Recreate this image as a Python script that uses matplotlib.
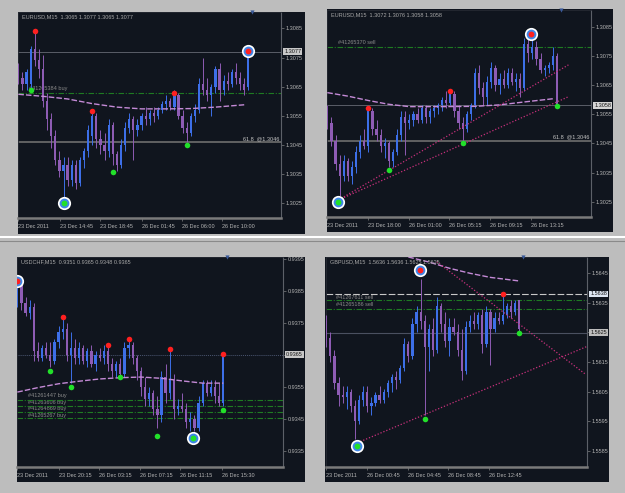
import matplotlib
matplotlib.use('Agg')
import matplotlib.pyplot as plt
import matplotlib.transforms as mtrans

W, H = 625, 493
BG = '#10151e'
BULL = '#3d6fe8'
BEAR = '#8e5cb4'
TXT = '#b4b4b4'
RED = '#ff2020'
GREEN = '#22e02a'
plt.rcParams['font.family'] = ['Liberation Sans', 'DejaVu Sans']

# ---- EURUSD (top left) ----
p1_open = [1.3071, 1.3068, 1.3066, 1.3066, 1.3078, 1.3074, 1.3071, 1.3060, 1.3054, 1.3048,
           1.3040, 1.3036, 1.3038, 1.3033, 1.3038, 1.3032, 1.3040, 1.3043, 1.3048, 1.3055,
           1.3047, 1.3045, 1.3043, 1.3052, 1.3042, 1.3038, 1.3045, 1.3051, 1.3054, 1.3050,
           1.3052, 1.3055, 1.3054, 1.3056, 1.3055, 1.3057, 1.3059, 1.3060, 1.3058, 1.3062,
           1.3055, 1.3051, 1.3049, 1.3055, 1.3057, 1.3066, 1.3064, 1.3062, 1.3065, 1.3071,
           1.3064, 1.3067, 1.3066, 1.3070, 1.3068, 1.3066, 1.3065]
p1_high = [1.3073, 1.3070, 1.3071, 1.3079, 1.3084, 1.3078, 1.3076, 1.3063, 1.3056, 1.3050,
           1.3043, 1.3041, 1.3041, 1.3040, 1.3040, 1.3041, 1.3044, 1.3052, 1.3057, 1.3056,
           1.3050, 1.3049, 1.3054, 1.3053, 1.3043, 1.3047, 1.3053, 1.3056, 1.3055, 1.3054,
           1.3056, 1.3058, 1.3057, 1.3058, 1.3058, 1.3060, 1.3062, 1.3061, 1.3064, 1.3063,
           1.3057, 1.3053, 1.3056, 1.3059, 1.3068, 1.3075, 1.3068, 1.3066, 1.3072, 1.3073,
           1.3069, 1.3070, 1.3071, 1.3073, 1.3070, 1.3068, 1.3077]
p1_low = [1.3066, 1.3064, 1.3064, 1.3064, 1.3072, 1.3068, 1.3058, 1.3050, 1.3044, 1.3038,
          1.3034, 1.3026, 1.3031, 1.3031, 1.3030, 1.3031, 1.3037, 1.3041, 1.3045, 1.3044,
          1.3042, 1.3040, 1.3041, 1.3038, 1.3036, 1.3037, 1.3043, 1.3049, 1.3040, 1.3048,
          1.3050, 1.3052, 1.3052, 1.3053, 1.3054, 1.3056, 1.3057, 1.3057, 1.3057, 1.3054,
          1.3049, 1.3046, 1.3048, 1.3053, 1.3056, 1.3062, 1.3060, 1.3055, 1.3063, 1.3060,
          1.3062, 1.3064, 1.3065, 1.3066, 1.3064, 1.3062, 1.3064]
p1_close = [1.3068, 1.3066, 1.3070, 1.3078, 1.3074, 1.3071, 1.3060, 1.3054, 1.3048, 1.3040,
            1.3036, 1.3038, 1.3033, 1.3038, 1.3032, 1.3040, 1.3043, 1.3050, 1.3055, 1.3047,
            1.3045, 1.3043, 1.3052, 1.3042, 1.3038, 1.3045, 1.3051, 1.3054, 1.3050, 1.3052,
            1.3055, 1.3054, 1.3056, 1.3055, 1.3057, 1.3059, 1.3060, 1.3058, 1.3062, 1.3055,
            1.3051, 1.3049, 1.3055, 1.3057, 1.3066, 1.3064, 1.3062, 1.3065, 1.3071, 1.3064,
            1.3067, 1.3066, 1.3070, 1.3068, 1.3066, 1.3064, 1.3077]
p1_ma_x = [0, 6, 12, 18, 24, 30, 36, 42, 48, 55]
p1_ma_y = [1.30624, 1.30617, 1.30608, 1.30592, 1.30580, 1.30574, 1.30574, 1.30575, 1.30580, 1.30588]
p1_red_x, p1_red_y = [4, 18, 38], [1.30840, 1.30568, 1.30629]
p1_green_x, p1_green_y = [3, 23, 41], [1.30640, 1.30357, 1.30450]
p1_ticks = [0, 10.1, 20, 30, 39.8, 49.6]
p1_labels = ['23 Dec 2011', '23 Dec 14:45', '23 Dec 18:45', '26 Dec 01:45', '26 Dec 06:00', '26 Dec 10:00']

# ---- EURUSD (top right) ----
p2_open = [1.3057, 1.3052, 1.3046, 1.3038, 1.3034, 1.3039, 1.3034, 1.3037, 1.3042, 1.3046,
           1.3044, 1.3056, 1.3050, 1.3048, 1.3044, 1.3045, 1.3039, 1.3042, 1.3048, 1.3054,
           1.3052, 1.3053, 1.3055, 1.3053, 1.3057, 1.3054, 1.3056, 1.3057, 1.3058, 1.3060,
           1.3059, 1.3062, 1.3056, 1.3052, 1.3050, 1.3055, 1.3058, 1.3069, 1.3064, 1.3061,
           1.3066, 1.3071, 1.3065, 1.3067, 1.3065, 1.3069, 1.3066, 1.3067, 1.3064, 1.3079,
           1.3076, 1.3078, 1.3074, 1.3070, 1.3071, 1.3072, 1.3075]
p2_high = [1.3058, 1.3054, 1.3048, 1.3041, 1.3041, 1.3040, 1.3039, 1.3044, 1.3048, 1.3050,
           1.3057, 1.3057, 1.3053, 1.3050, 1.3047, 1.3046, 1.3043, 1.3050, 1.3056, 1.3056,
           1.3055, 1.3056, 1.3057, 1.3058, 1.3058, 1.3057, 1.3058, 1.3059, 1.3061, 1.3063,
           1.3063, 1.3063, 1.3058, 1.3054, 1.3056, 1.3059, 1.3071, 1.3072, 1.3066, 1.3068,
           1.3073, 1.3072, 1.3069, 1.3070, 1.3071, 1.3071, 1.3069, 1.3069, 1.3081, 1.3082,
           1.3081, 1.3080, 1.3076, 1.3072, 1.3073, 1.3078, 1.3076]
p2_low = [1.3050, 1.3044, 1.3036, 1.3027, 1.3032, 1.3032, 1.3031, 1.3035, 1.3040, 1.3043,
          1.3042, 1.3048, 1.3046, 1.3042, 1.3040, 1.3037, 1.3037, 1.3041, 1.3046, 1.3041,
          1.3050, 1.3051, 1.3052, 1.3052, 1.3052, 1.3052, 1.3054, 1.3055, 1.3056, 1.3057,
          1.3058, 1.3054, 1.3050, 1.3046, 1.3049, 1.3053, 1.3057, 1.3062, 1.3058, 1.3058,
          1.3064, 1.3063, 1.3062, 1.3064, 1.3064, 1.3065, 1.3063, 1.3061, 1.3063, 1.3073,
          1.3074, 1.3072, 1.3069, 1.3068, 1.3069, 1.3070, 1.3058]
p2_close = [1.3052, 1.3046, 1.3038, 1.3034, 1.3039, 1.3034, 1.3037, 1.3042, 1.3046, 1.3044,
            1.3056, 1.3050, 1.3048, 1.3044, 1.3045, 1.3039, 1.3042, 1.3048, 1.3054, 1.3052,
            1.3053, 1.3055, 1.3053, 1.3057, 1.3054, 1.3056, 1.3057, 1.3058, 1.3060, 1.3059,
            1.3062, 1.3056, 1.3052, 1.3050, 1.3055, 1.3058, 1.3069, 1.3064, 1.3061, 1.3066,
            1.3071, 1.3065, 1.3067, 1.3065, 1.3069, 1.3066, 1.3067, 1.3064, 1.3079, 1.3076,
            1.3078, 1.3074, 1.3070, 1.3071, 1.3072, 1.3075, 1.3058]
p2_ma_x = [0, 5, 10, 15, 20, 28, 36, 42, 48, 55]
p2_ma_y = [1.30624, 1.30612, 1.30597, 1.30584, 1.30576, 1.30576, 1.30577, 1.30582, 1.30592, 1.30603]
p2_red_x, p2_red_y = [10, 30], [1.30570, 1.30631]
p2_green_x, p2_green_y = [15, 33, 56], [1.30359, 1.30450, 1.30578]
p2_trend_x = [2.7, 58.8]
p2_trend1_y = [1.30256, 1.30719]
p2_trend2_y = [1.30256, 1.30610]
p2_ticks = [0, 10, 20, 29.7, 39.6, 49.6]
p2_labels = ['23 Dec 2011', '23 Dec 18:00', '26 Dec 01:00', '26 Dec 05:15', '26 Dec 09:15', '26 Dec 13:15']

# ---- USDCHF (bottom left) ----
p3_open = [0.9382, 0.9387, 0.9381, 0.9378, 0.9380, 0.9366, 0.9364, 0.9367, 0.9365, 0.9363,
           0.9369, 0.9372, 0.9373, 0.9365, 0.9367, 0.9364, 0.9367, 0.9363, 0.9366, 0.9362,
           0.9365, 0.9364, 0.9366, 0.9362, 0.9360, 0.9362, 0.9359, 0.9367, 0.9368, 0.9364,
           0.9360, 0.9355, 0.9351, 0.9353, 0.9348, 0.9346, 0.9358, 0.9353, 0.9357, 0.9348,
           0.9349, 0.9348, 0.9344, 0.9345, 0.9342, 0.9350, 0.9356, 0.9353, 0.9355, 0.9352,
           0.9350]
p3_high = [0.9388, 0.9388, 0.9383, 0.9382, 0.9381, 0.9369, 0.9368, 0.9369, 0.9369, 0.9370,
           0.9374, 0.9377, 0.9375, 0.9372, 0.9370, 0.9369, 0.9368, 0.9367, 0.9368, 0.9366,
           0.9367, 0.9368, 0.9368, 0.9364, 0.9363, 0.9364, 0.9369, 0.9370, 0.9369, 0.9365,
           0.9361, 0.9358, 0.9355, 0.9354, 0.9352, 0.9360, 0.9362, 0.9366, 0.9359, 0.9351,
           0.9353, 0.9350, 0.9347, 0.9346, 0.9352, 0.9357, 0.9357, 0.9357, 0.9357, 0.9356,
           0.9365]
p3_low = [0.9380, 0.9379, 0.9377, 0.9376, 0.9363, 0.9363, 0.9363, 0.9364, 0.9361, 0.9362,
          0.9367, 0.9370, 0.9363, 0.9356, 0.9362, 0.9362, 0.9362, 0.9361, 0.9361, 0.9360,
          0.9363, 0.9362, 0.9360, 0.9358, 0.9358, 0.9358, 0.9358, 0.9364, 0.9362, 0.9357,
          0.9352, 0.9349, 0.9349, 0.9346, 0.9342, 0.9344, 0.9350, 0.9351, 0.9345, 0.9346,
          0.9347, 0.9342, 0.9341, 0.9341, 0.9341, 0.9349, 0.9352, 0.9352, 0.9350, 0.9349,
          0.9349]
p3_close = [0.9387, 0.9381, 0.9378, 0.9380, 0.9366, 0.9364, 0.9367, 0.9365, 0.9363, 0.9369,
            0.9372, 0.9373, 0.9365, 0.9367, 0.9364, 0.9367, 0.9363, 0.9366, 0.9362, 0.9365,
            0.9364, 0.9366, 0.9362, 0.9360, 0.9362, 0.9359, 0.9367, 0.9368, 0.9364, 0.9360,
            0.9355, 0.9351, 0.9353, 0.9348, 0.9346, 0.9358, 0.9353, 0.9357, 0.9348, 0.9349,
            0.9348, 0.9344, 0.9345, 0.9342, 0.9350, 0.9356, 0.9353, 0.9355, 0.9352, 0.9350,
            0.9365]
p3_ma_x = [0, 5, 10, 15, 20, 25, 30, 35, 40, 45, 50]
p3_ma_y = [0.93533, 0.93547, 0.93559, 0.93567, 0.93574, 0.93578, 0.93580, 0.93576, 0.93568,
           0.93561, 0.93561]
p3_red_x, p3_red_y = [11, 22, 27, 37, 50], [0.93768, 0.93680, 0.93698, 0.93669, 0.93651]
p3_green_x, p3_green_y = [8, 13, 25, 34, 50], [0.93600, 0.93548, 0.93579, 0.93397, 0.93477]
p3_orders = [0.93507, 0.93489, 0.93470, 0.93451]
p3_order_names = ['#41261447 buy', '#41263606 buy', '#41264869 buy', '#41265267 buy']
p3_ticks = [0, 10, 19.9, 29.8, 39.6, 49.6]
p3_labels = ['23 Dec 2011', '23 Dec 20:15', '26 Dec 03:15', '26 Dec 07:15', '26 Dec 11:15', '26 Dec 15:30']

# ---- GBPUSD (bottom right) ----
p4_open = [1.5629, 1.5623, 1.5617, 1.5608, 1.5604, 1.5603, 1.5605, 1.5600, 1.5595, 1.5602,
           1.5605, 1.5600, 1.5601, 1.5604, 1.5602, 1.5605, 1.5608, 1.5610, 1.5609, 1.5613,
           1.5621, 1.5617, 1.5628, 1.5632, 1.5629, 1.5620, 1.5626, 1.5619, 1.5634, 1.5628,
           1.5622, 1.5627, 1.5625, 1.5619, 1.5612, 1.5627, 1.5629, 1.5628, 1.5631, 1.5621,
           1.5632, 1.5626, 1.5630, 1.5629, 1.5631, 1.5634, 1.5632, 1.5636]
p4_high = [1.5631, 1.5625, 1.5619, 1.5610, 1.5607, 1.5607, 1.5606, 1.5602, 1.5604, 1.5607,
           1.5607, 1.5603, 1.5605, 1.5607, 1.5606, 1.5609, 1.5611, 1.5612, 1.5614, 1.5623,
           1.5622, 1.5630, 1.5634, 1.5643, 1.5631, 1.5628, 1.5630, 1.5637, 1.5635, 1.5632,
           1.5630, 1.5630, 1.5628, 1.5626, 1.5629, 1.5631, 1.5632, 1.5632, 1.5633, 1.5634,
           1.5633, 1.5632, 1.5632, 1.5638, 1.5635, 1.5636, 1.5636, 1.5636]
p4_low = [1.5620, 1.5615, 1.5606, 1.5600, 1.5601, 1.5599, 1.5598, 1.5589, 1.5594, 1.5600,
          1.5598, 1.5597, 1.5600, 1.5601, 1.5601, 1.5603, 1.5605, 1.5606, 1.5608, 1.5612,
          1.5615, 1.5616, 1.5625, 1.5626, 1.5597, 1.5612, 1.5617, 1.5618, 1.5625, 1.5620,
          1.5617, 1.5624, 1.5617, 1.5609, 1.5611, 1.5625, 1.5626, 1.5626, 1.5618, 1.5620,
          1.5614, 1.5625, 1.5628, 1.5628, 1.5630, 1.5630, 1.5631, 1.5625]
p4_close = [1.5623, 1.5617, 1.5608, 1.5604, 1.5603, 1.5605, 1.5600, 1.5595, 1.5602, 1.5605,
            1.5600, 1.5601, 1.5604, 1.5602, 1.5605, 1.5608, 1.5610, 1.5609, 1.5613, 1.5621,
            1.5617, 1.5628, 1.5632, 1.5629, 1.5620, 1.5626, 1.5619, 1.5634, 1.5628, 1.5622,
            1.5627, 1.5625, 1.5619, 1.5612, 1.5627, 1.5629, 1.5628, 1.5631, 1.5621, 1.5632,
            1.5626, 1.5630, 1.5629, 1.5631, 1.5634, 1.5632, 1.5635, 1.5626]
p4_ma_x = [20, 25, 30, 35, 40, 47]
p4_ma_y = [1.56505, 1.56488, 1.56467, 1.56450, 1.56436, 1.56424]
p4_red_x, p4_red_y = [43], [1.56380]
p4_green_x, p4_green_y = [24, 47], [1.55956, 1.56247]
p4_low_trend_x, p4_low_trend_y = [8.3, 63.4], [1.55881, 1.56202]
p4_up_trend_x, p4_up_trend_y = [26.9, 63.2], [1.56489, 1.56108]
p4_ticks = [0, 10, 19.9, 29.7, 39.6]
p4_labels = ['23 Dec 2011', '26 Dec 00:45', '26 Dec 04:45', '26 Dec 08:45', '26 Dec 12:45']


fig = plt.figure(figsize=(W / 100, H / 100), dpi=100)
fig.patch.set_facecolor('#bdbdbd')


def px_axes(x0, y0, x1, y1):
    return fig.add_axes([x0 / W, 1 - y1 / H, (x1 - x0) / W, (y1 - y0) / H])


def draw_candles(ax, o, h, l, c):
    for i in range(len(c)):
        col = BULL if c[i] >= o[i] else BEAR
        ax.vlines(i, l[i], h[i], color=col, lw=0.7, zorder=3)
        lo, hi = min(o[i], c[i]), max(o[i], c[i])
        ax.bar(i, max(hi - lo, 0.00003), bottom=lo, width=0.55, color=col, lw=0, zorder=3)


def dots(ax, xs, ys, col, ring=False):
    if ring:
        ax.plot(xs, ys, 'o', ms=9.5, color='white', mew=0, zorder=6)
        ax.plot(xs, ys, 'o', ms=7, color='#3f86e8', mew=0, zorder=6)
        ax.plot(xs, ys, 'o', ms=4.2, color=col, mew=0, zorder=7)
    else:
        ax.plot(xs, ys, 'o', ms=4, color=col, mew=0, zorder=7)


def panel(frame, box, xlim, ylim, yticks, o, h, l, c, title, ticks, labels, hide=None):
    bg = px_axes(*frame)
    bg.set_facecolor(BG)
    bg.set_xticks([])
    bg.set_yticks([])
    for s in bg.spines.values():
        s.set_visible(False)

    ax = px_axes(*box)
    ax.set_facecolor(BG)
    ax.set_xlim(*xlim)
    ax.set_ylim(*ylim)
    for side in ['top', 'left']:
        ax.spines[side].set_color('#262a33')
        ax.spines[side].set_linewidth(0.6)
    ax.spines['right'].set_color('#5c6068')
    ax.spines['right'].set_linewidth(0.8)
    ax.spines['bottom'].set_color('#7a7a7a')
    ax.spines['bottom'].set_linewidth(1.8)

    ax.yaxis.tick_right()
    ax.set_yticks(yticks)
    # the boxed current-price label takes the place of the plain tick label
    ax.set_yticklabels(['' if v == hide else '%.4f' % v for v in yticks])
    ax.tick_params(axis='y', length=2, width=0.5, color='#808080', labelsize=4,
                   labelcolor=TXT, pad=1.5)
    ax.set_xticks(ticks)
    ax.set_xticklabels(labels)
    ax.tick_params(axis='x', length=2, width=0.5, color='#808080', labelsize=4,
                   labelcolor=TXT, pad=2)
    for t in ax.get_xticklabels():
        t.set_ha('left')

    ax.text(0.015, 0.975, title, transform=ax.transAxes, fontsize=4, color='#a8a8a8',
            va='center', ha='left', zorder=8)
    draw_candles(ax, o, h, l, c)
    # chart shift marker
    ax.plot([len(c)], [1.0], 'v', ms=3, color='#3a5a9a', mew=0,
            transform=mtrans.blended_transform_factory(ax.transData, ax.transAxes),
            clip_on=False, zorder=8)
    return ax


def price_box(ax, y, text, fc):
    tr = mtrans.blended_transform_factory(ax.transAxes, ax.transData)
    ax.text(1.012, y, text, transform=tr, fontsize=4, color='#151515', va='center',
            ha='left', zorder=9, bbox=dict(fc=fc, ec='none', pad=0.7))


def order_line(ax, y, name, label_y=None, color='#1f7a22', ls=(0, (5, 1.5, 1, 1.5))):
    ax.axhline(y, color=color, lw=0.8, ls=ls, zorder=2)
    if name:
        tr = mtrans.blended_transform_factory(ax.transAxes, ax.transData)
        ax.text(0.04, label_y if label_y else y, name, transform=tr, fontsize=4,
                color='#8a8a8a', va='center', ha='left', zorder=1)


def fib_line(ax, y):
    ax.axhline(y, color='#6e6e6e', lw=1.2, zorder=2)
    tr = mtrans.blended_transform_factory(ax.transAxes, ax.transData)
    ax.text(0.995, y + 0.00004, '61.8  @1.3046', transform=tr, fontsize=4, color='#c4c4c4',
            va='bottom', ha='right', zorder=8)


def ma_line(ax, xs, ys):
    ax.plot(xs, ys, color='#c48ad6', lw=1.0, ls=(0, (4, 1.5)), zorder=4)


eur_ticks = [1.3025, 1.3035, 1.3045, 1.3055, 1.3065, 1.3075, 1.3085]

# top left
ax1 = panel((18, 12, 305, 234), (18, 12, 281, 218), (-0.08, 63.96), (1.30200, 1.30906),
            eur_ticks, p1_open, p1_high, p1_low, p1_close,
            'EURUSD,M15  1.3065 1.3077 1.3065 1.3077', p1_ticks, p1_labels)
ax1.axhline(1.3077, color='#5a5e68', lw=0.7, zorder=2)
order_line(ax1, 1.3063, '#41265384 buy', label_y=1.30645)
fib_line(ax1, 1.3046)
ma_line(ax1, p1_ma_x, p1_ma_y)
dots(ax1, p1_red_x, p1_red_y, RED)
dots(ax1, p1_green_x, p1_green_y, GREEN)
dots(ax1, [11], [1.3025], GREEN, ring=True)
dots(ax1, [56], [1.30773], RED, ring=True)
price_box(ax1, 1.3077, '1.3077', '#c8c8c8')

# top right
ax2 = panel((327, 9, 613, 232), (327, 10, 591, 217), (-0.08, 64.3), (1.30198, 1.30907),
            eur_ticks, p2_open, p2_high, p2_low, p2_close,
            'EURUSD,M15  1.3072 1.3076 1.3058 1.3058', p2_ticks, p2_labels)
ax2.axhline(1.3058, color='#5a5e68', lw=0.7, zorder=2)
order_line(ax2, 1.3078, '#41265370 sell', label_y=1.30795)
fib_line(ax2, 1.3046)
ma_line(ax2, p2_ma_x, p2_ma_y)
ax2.plot(p2_trend_x, p2_trend1_y, color='#c8307c', lw=0.9, ls=(0, (1, 1.5)), zorder=4)
ax2.plot(p2_trend_x, p2_trend2_y, color='#c8307c', lw=0.9, ls=(0, (1, 1.5)), zorder=4)
dots(ax2, p2_red_x, p2_red_y, RED)
dots(ax2, p2_green_x, p2_green_y, GREEN)
dots(ax2, [2.7], [1.3025], GREEN, ring=True)
dots(ax2, [49.6], [1.30824], RED, ring=True)
price_box(ax2, 1.3058, '1.3058', '#d4d4d4')

# bottom left
ax3 = panel((17, 257, 305, 482), (17, 257, 283, 467), (-0.08, 64.5), (0.93299, 0.93955),
            [0.9335, 0.9345, 0.9355, 0.9365, 0.9375, 0.9385, 0.9395],
            p3_open, p3_high, p3_low, p3_close,
            'USDCHF,M15  0.9351 0.9365 0.9348 0.9365', p3_ticks, p3_labels, hide=0.9365)
ax3.axhline(0.9365, color='#4a5570', lw=0.7, ls=(0, (1, 1)), zorder=2)
for y, name, ly in zip(p3_orders, p3_order_names, [0.93522, 0.93502, 0.93481, 0.93461]):
    order_line(ax3, y, name, label_y=ly)
ma_line(ax3, p3_ma_x, p3_ma_y)
dots(ax3, p3_red_x, p3_red_y, RED)
dots(ax3, p3_green_x, p3_green_y, GREEN)
dots(ax3, [0], [0.93879], RED, ring=True)
dots(ax3, [42.6], [0.93390], GREEN, ring=True)
price_box(ax3, 0.9365, '0.9365', '#c8c8c8')

# bottom right
ax4 = panel((325, 257, 609, 482), (326, 257, 587, 467), (-0.05, 63.5), (1.55795, 1.56505),
            [1.5585, 1.5595, 1.5605, 1.5615, 1.5625, 1.5635, 1.5645],
            p4_open, p4_high, p4_low, p4_close,
            'GBPUSD,M15  1.5636 1.5636 1.5625 1.5625', p4_ticks, p4_labels, hide=1.5625)
ax4.axhline(1.56247, color='#4a5060', lw=0.8, zorder=2)
order_line(ax4, 1.56379, '#41267611 sell', label_y=1.56368, color='#c8c8c8', ls=(0, (6, 2)))
order_line(ax4, 1.56360, None)
order_line(ax4, 1.56329, '#41265186 sell', label_y=1.56343)
ma_line(ax4, p4_ma_x, p4_ma_y)
ax4.plot(p4_low_trend_x, p4_low_trend_y, color='#c8307c', lw=0.9, ls=(0, (1, 1.5)), zorder=4)
ax4.plot(p4_up_trend_x, p4_up_trend_y, color='#c8307c', lw=0.9, ls=(0, (1, 1.5)), zorder=4)
dots(ax4, p4_red_x, p4_red_y, RED)
dots(ax4, p4_green_x, p4_green_y, GREEN)
dots(ax4, [7.5], [1.55867], GREEN, ring=True)
dots(ax4, [22.9], [1.56461], RED, ring=True)
price_box(ax4, 1.5638, '1.5638', '#dde6f2')
price_box(ax4, 1.5625, '1.5625', '#bcbcbc')

# separator between the two rows of charts
fig.add_artist(plt.Line2D([0, 1], [1 - 237 / H, 1 - 237 / H], color='white', lw=1.5))
fig.add_artist(plt.Line2D([0, 1], [1 - 241 / H, 1 - 241 / H], color='#8a8a8a', lw=0.8))

fig.savefig('out.png', dpi=100, facecolor=fig.get_facecolor())
